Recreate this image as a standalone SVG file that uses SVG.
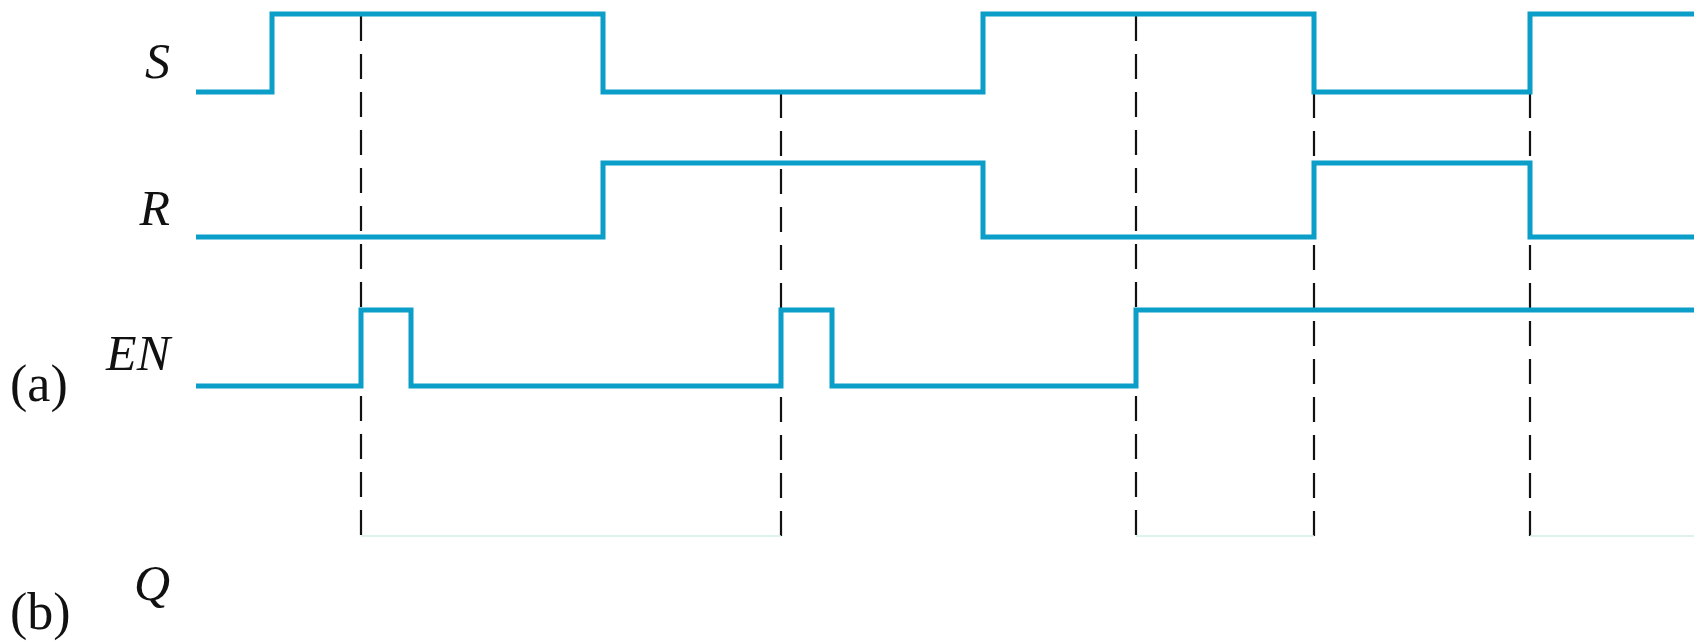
<svg xmlns="http://www.w3.org/2000/svg" width="1700" height="642" viewBox="0 0 1700 642">
<style>
.sig{fill:none;stroke:#0a9ec8;stroke-width:5;stroke-linejoin:miter;stroke-linecap:butt}
.dash{fill:none;stroke:#111;stroke-width:2.2;stroke-dasharray:25 13}
.faint{fill:none;stroke:#d4f0e2;stroke-width:1.5}
.lbl{font-family:"Liberation Serif","Times New Roman",serif;font-style:italic;font-size:50px;fill:#111;text-anchor:end}
.tag{font-family:"Liberation Serif","Times New Roman",serif;font-size:52px;fill:#111}
</style>
<rect width="1700" height="642" fill="#fff"/>
<g id="connectors">
<path class="dash" d="M361 16V536"/>
<path class="dash" d="M781 93V536"/>
<path class="dash" d="M1136 16V536"/>
<path class="dash" d="M1314 93V536"/>
<path class="dash" d="M1530 93V536"/>
<path class="faint" d="M361 536H781M1136 536H1314M1530 536H1694"/>
</g>
<g id="S">
<path class="sig" d="M196 92H272V14H603V92H983V14H1314V92H1530V14H1694"/>
<text class="lbl" x="170" y="78">S</text>
</g>
<g id="R">
<path class="sig" d="M196 237H603V163H983V237H1314V163H1530V237H1694"/>
<text class="lbl" x="170" y="225">R</text>
</g>
<g id="EN">
<path class="sig" d="M196 386H361V310H411V386H781V310H832V386H1136V310H1694"/>
<text class="lbl" x="170" y="370">EN</text>
</g>
<g id="Q">
<text class="lbl" x="170" y="600">Q</text>
</g>
<g id="labels">
<text class="tag" x="10" y="401">(a)</text>
<text class="tag" x="10" y="629">(b)</text>
</g>
</svg>
